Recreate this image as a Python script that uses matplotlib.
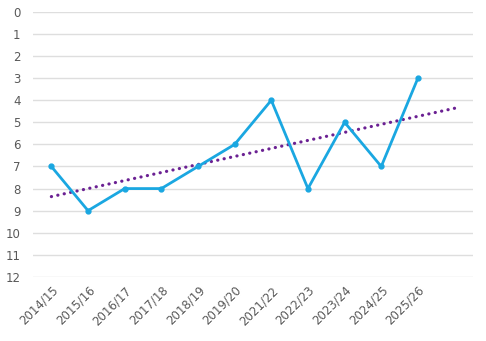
import numpy as np
import matplotlib
matplotlib.use("Agg")
import matplotlib.pyplot as plt

seasons = ['2014/15', '2015/16', '2016/17', '2017/18', '2018/19', '2019/20',
           '2021/22', '2022/23', '2023/24', '2024/25', '2025/26']
ranks = [7, 9, 8, 8, 7, 6, 4, 8, 5, 7, 3]

plt.rcParams['font.family'] = ['DejaVu Sans']

fig = plt.figure(figsize=(4.86, 3.41), dpi=100)
ax = fig.add_axes([0.068, 0.188, 0.905, 0.777])

x = np.arange(len(seasons))
ax.plot(x, ranks, color='#1AA7E1', lw=2.0, marker='o', ms=3.5, zorder=3)

# linear trend, forecast one period forward
k, b = np.polyfit(x, ranks, 1)
xt = np.arange(len(seasons) + 1)
ax.plot(xt, k * xt + b, color='#6B2193', lw=2.3, ls=(0, (0.05, 2.0)),
        dash_capstyle='round', zorder=2)

ax.set_xlim(-0.5, len(seasons) + 0.5)
ax.set_ylim(12, 0)
ax.set_yticks(range(0, 13))
ax.set_xticks(x)
ax.set_xticklabels(seasons, rotation=45, ha='right', rotation_mode='anchor')
ax.tick_params(axis='both', length=0, labelsize=8.5, colors='#595959')
ax.tick_params(axis='y', pad=9)
ax.tick_params(axis='x', pad=5)
ax.grid(axis='y', color='#DEDEDE', lw=1.0)
for s in ax.spines.values():
    s.set_visible(False)

plt.savefig("out.png", dpi=100)
